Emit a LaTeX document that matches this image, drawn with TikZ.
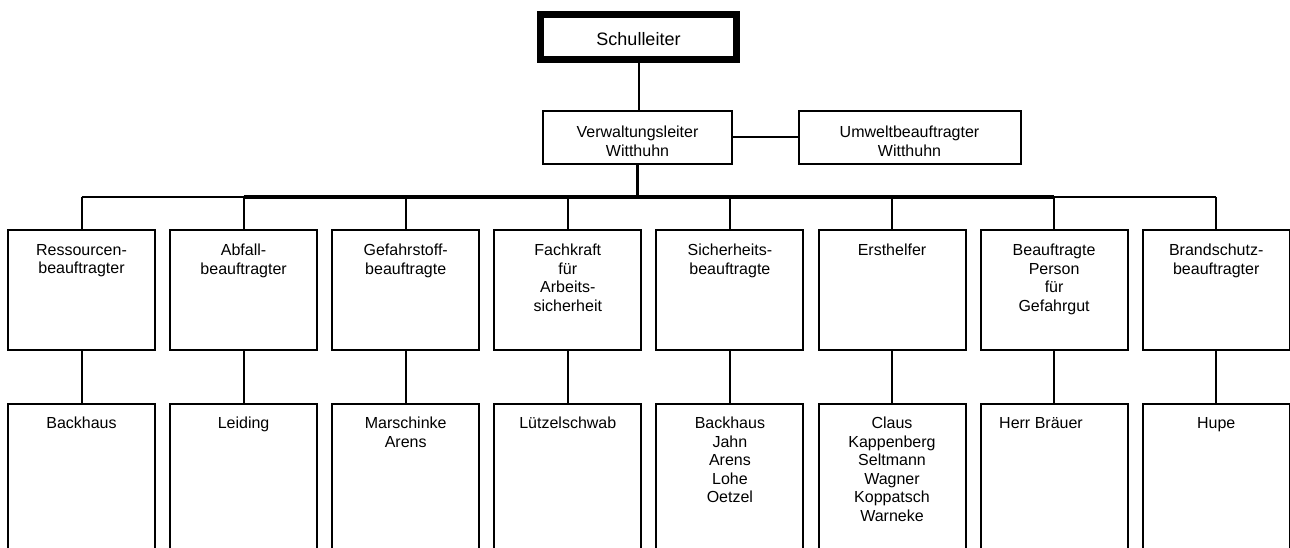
\documentclass[tikz,border=0pt]{standalone}
\usepackage{fontspec}
\setmainfont{Liberation Sans}
\begin{document}
\begin{tikzpicture}[x=0.75pt,y=-0.75pt,
  box/.style={draw,line width=1.5pt,rectangle,inner sep=0pt},
  unitbox/.style={box,minimum width=147*0.75pt},
  txt/.style={align=center,inner sep=0pt,anchor=north,font=\fontsize{12}{13.9}\selectfont},
  conn/.style={line width=1.5pt},
  heavyconn/.style={line width=2.4pt}]
\useasboundingbox (0,0) rectangle (1290,548);
\clip (0,0) rectangle (1290,548);

% top
\node[box,line width=5.2pt,minimum width=196*0.75pt,minimum height=45*0.75pt] (sl) at (638.5,37) {};
\node[inner sep=0pt,anchor=base,font=\fontsize{13.5}{15}\selectfont] (slt) at (638.5,45.5) {Schulleiter};

\node[box,minimum width=189*0.75pt,minimum height=53*0.75pt] (vl) at (637.5,137.5) {};
\node[txt] (vlt) at (637.5,126) {Verwaltungsleiter\\Witthuhn};
\node[box,minimum width=222*0.75pt,minimum height=53*0.75pt] (uw) at (909.5,137.5) {};
\node[txt] (uwt) at (909.5,126) {Umweltbeauftragter\\Witthuhn};

\draw[conn] (sl.south) -- (sl.south |- vl.north);
\draw[conn] (vl.east) -- (uw.west);
\coordinate (bus) at (637.5,197);
\draw[heavyconn] (vl.south) -- (bus);

% row 1 boxes
\foreach \i/\t in {1/{Ressourcen-\\beauftragter},2/{Abfall-\\beauftragter},3/{Gefahrstoff-\\beauftragte},
  4/{Fachkraft\\für\\Arbeits-\\sicherheit},5/{Sicherheits-\\beauftragte},6/{Ersthelfer},
  7/{Beauftragte\\Person\\für\\Gefahrgut},8/{Brandschutz-\\beauftragter}}{
  \pgfmathsetmacro{\cx}{81.5+162.1*(\i-1)}
  \node[unitbox,minimum height=120*0.75pt] (b\i) at (\cx,290) {};
  \node[txt] (bt\i) at (\cx,244) {\t};
}
% row 2 boxes
\foreach \i/\t in {1/{Backhaus},2/{Leiding},3/{Marschinke\\Arens},4/{Lützelschwab},
  5/{Backhaus\\Jahn\\Arens\\Lohe\\Oetzel},6/{Claus\\Kappenberg\\Seltmann\\Wagner\\Koppatsch\\Warneke},
  7/{},8/{Hupe}}{
  \pgfmathsetmacro{\cx}{81.5+162.1*(\i-1)}
  \node[unitbox,minimum height=200*0.75pt] (p\i) at (\cx,504) {};
  \node[txt] (pt\i) at (\cx,417) {\t};
}
\node[txt] (pt7b) at (1041,417) {Herr Bräuer};

% bus
\draw[conn] (b1.north |- bus) -- (b2.north |- bus);
\draw[heavyconn] (b2.north |- bus) -- (b7.north |- bus);
\draw[conn] (b7.north |- bus) -- (b8.north |- bus);
\foreach \i in {1,...,8}{
  \draw[conn] (b\i.north |- bus) -- (b\i.north);
  \draw[conn] (b\i.south) -- (p\i.north);
}
\end{tikzpicture}
\end{document}
